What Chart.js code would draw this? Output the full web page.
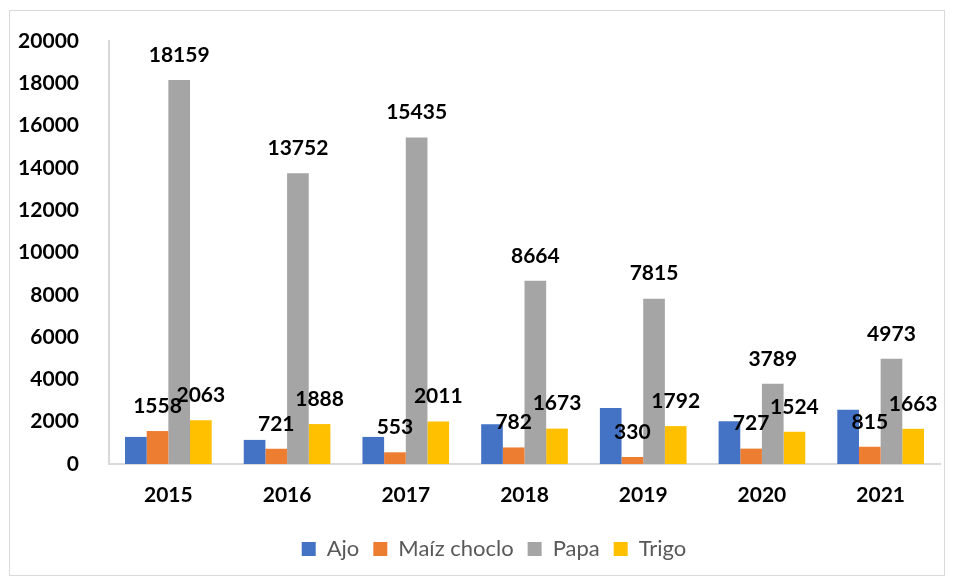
<!DOCTYPE html>
<html>
<head>
<meta charset="utf-8">
<script src="https://cdn.jsdelivr.net/npm/chart.js@4.4.1/dist/chart.umd.min.js"></script>
<style>
  body { margin: 0; background: #fff; }
  #wrap { position: relative; width: 956px; height: 580px; }
  #frame { position: absolute; left: 9px; top: 10px; width: 936px; height: 566px; border: 1px solid #D9D9D9; box-sizing: border-box; pointer-events: none; }
</style>
</head>
<body>
<div id="wrap">
  <canvas id="chart" width="956" height="580"></canvas>
  <div id="frame"></div>
</div>
<script>
// data (Ajo has no labels, so those are estimates)
const years = ['2015', '2016', '2017', '2018', '2019', '2020', '2021'];
const ajo = [1280, 1140, 1280, 1880, 2650, 2020, 2560];
const maiz = [1558, 721, 553, 782, 330, 727, 815];
const papa = [18159, 13752, 15435, 8664, 7815, 3789, 4973];
const trigo = [2063, 1888, 2011, 1673, 1792, 1524, 1663];
const yTicks = [0, 2000, 4000, 6000, 8000, 10000, 12000, 14000, 16000, 18000, 20000];

const labelFont = "bold 21px Lato";

// draws the value above each bar, except for Ajo
const barLabels = {
  id: 'barLabels',
  afterDatasetsDraw(chart) {
    const ctx = chart.ctx;
    ctx.save();
    ctx.font = labelFont;
    ctx.fillStyle = '#000';
    ctx.textAlign = 'center';
    ctx.textBaseline = 'middle';
    chart.data.datasets.forEach((ds, i) => {
      if (!ds.showValues) return;
      chart.getDatasetMeta(i).data.forEach((bar, j) => {
        ctx.fillText(ds.data[j], bar.x, bar.y - 25);
      });
    });
    ctx.restore();
  }
};

// legend in the original sits a bit right of the canvas centre
const nudgeLegend = {
  id: 'nudgeLegend',
  afterLayout(chart) {
    chart.legend.left += 24;
    chart.legend.right += 24;
  }
};

new Chart(document.getElementById('chart'), {
  type: 'bar',
  data: {
    labels: years,
    datasets: [
      { label: 'Ajo', data: ajo, backgroundColor: '#4472C4', showValues: false },
      { label: 'Maíz choclo', data: maiz, backgroundColor: '#ED7D31', showValues: true },
      { label: 'Papa', data: papa, backgroundColor: '#A5A5A5', showValues: true },
      { label: 'Trigo', data: trigo, backgroundColor: '#FFC000', showValues: true }
    ]
  },
  options: {
    responsive: false,
    animation: false,
    layout: { padding: { top: 41, right: 16, bottom: 10, left: 0 } },
    datasets: { bar: { barPercentage: 1, categoryPercentage: 0.73 } },
    plugins: {
      legend: {
        position: 'bottom',
        labels: {
          boxWidth: 14,
          boxHeight: 14,
          padding: 14,
          color: '#595959',
          font: { family: 'Lato', size: 22 }
        }
      },
      tooltip: { enabled: false }
    },
    scales: {
      x: {
        grid: { display: false },
        border: { color: '#D9D9D9', width: 2 },
        ticks: { color: '#000', padding: 11, font: { family: 'Lato', size: 21, weight: 'bold' } },
        afterFit(scale) { scale.height = 60; }
      },
      y: {
        min: 0,
        max: 20000,
        afterBuildTicks(scale) { scale.ticks = yTicks.map(v => ({ value: v })); },
        grid: { display: false },
        border: { color: '#D9D9D9', width: 2 },
        ticks: {
          color: '#000',
          padding: 22,
          font: { family: 'Lato', size: 21, weight: 'bold' },
          callback: v => String(v)
        },
        afterFit(scale) { scale.width = 109; }
      }
    }
  },
  plugins: [barLabels, nudgeLegend]
});
</script>
</body>
</html>
